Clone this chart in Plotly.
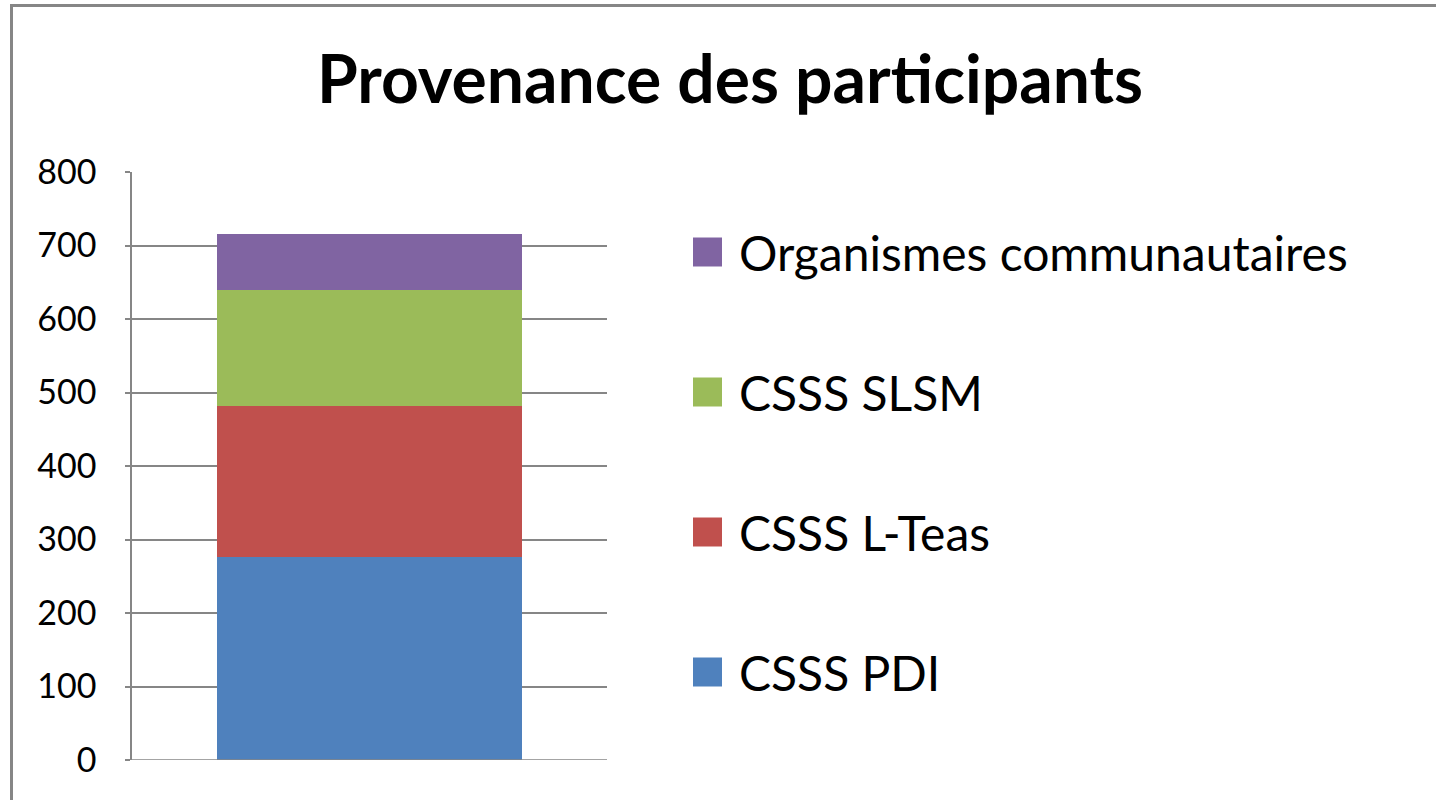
import plotly.graph_objects as go

# ---- data ----
categories = ["Participants"]
series_names = ["CSSS PDI", "CSSS L-Teas", "CSSS SLSM", "Organismes communautaires"]
series_values = [276, 205, 158, 77]
series_colors = ["#4F81BD", "#C0504D", "#9BBB59", "#8064A2"]
y_ticks = [0, 100, 200, 300, 400, 500, 600, 700, 800]

W, H = 1436, 800
L, R, T, B = 132, 607, 172, 760  # plot area in pixels
FONT = "Lato"

fig = go.Figure()
for name, val, col in zip(series_names, series_values, series_colors):
    fig.add_trace(go.Bar(
        x=categories, y=[val], name=name, marker=dict(color=col, line=dict(width=0)),
        width=0.642, showlegend=False,
    ))

def px_x(p):
    return (p - L) / (R - L)

def px_y(p):
    return (B - p) / (B - T)

shapes = [dict(type="rect", xref="paper", yref="paper",
               x0=px_x(11.5), x1=px_x(1445), y0=px_y(805), y1=px_y(5.5),
               line=dict(color="#868686", width=3), fillcolor="rgba(0,0,0,0)", layer="below")]
annotations = []
row_y0, row_step = 252, 140
for i, (name, col) in enumerate(zip(series_names[::-1], series_colors[::-1])):
    cy = row_y0 + i * row_step
    shapes.append(dict(type="rect", xref="paper", yref="paper",
                       x0=px_x(693), x1=px_x(722), y0=px_y(cy + 14.5), y1=px_y(cy - 14.5),
                       line=dict(width=0), fillcolor=col))
    annotations.append(dict(text=name, xref="paper", yref="paper", x=px_x(737), y=px_y(cy),
                            xanchor="left", yanchor="middle", showarrow=False,
                            font=dict(family=FONT, size=48, color="#000000")))

fig.update_layout(
    width=W, height=H,
    margin=dict(l=L, r=W - R, t=T, b=H - B, pad=0),
    paper_bgcolor="white", plot_bgcolor="white",
    barmode="stack", bargap=0,
    title=dict(text="<b>Provenance des participants</b>", x=730 / W, xref="container",
               xanchor="center", y=1 - 80 / H, yref="container", yanchor="middle",
               font=dict(family=FONT, size=66, color="#000000")),
    xaxis=dict(range=[-0.5, 0.5], showticklabels=False, showgrid=False, zeroline=False,
               showline=False, ticks=""),
    yaxis=dict(range=[0, 800], tickvals=y_ticks, showgrid=True, gridcolor="#868686", gridwidth=1.5,
               showline=True, linecolor="#868686", linewidth=1.5, zeroline=False,
               ticks="outside", ticklen=5, tickcolor="#868686", tickwidth=1.5,
               ticklabelstandoff=22,
               tickfont=dict(family=FONT, size=34, color="#000000")),
    shapes=shapes, annotations=annotations, showlegend=False,
)
# bottom axis line at zero
fig.add_hline(y=0, line=dict(color="#868686", width=1.5))

fig.write_html("out.html", config={"displayModeBar": False},
               post_script="document.body.style.margin='0';")
